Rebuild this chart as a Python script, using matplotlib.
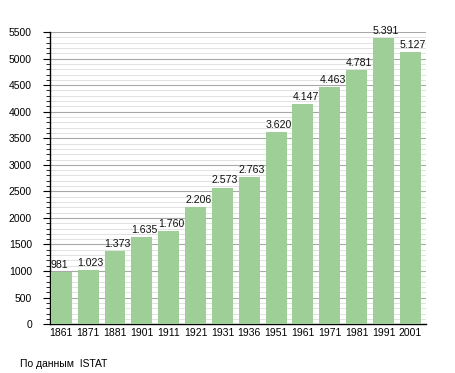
import numpy as np
import matplotlib.pyplot as plt
from matplotlib.ticker import MultipleLocator

years = ["1861", "1871", "1881", "1901", "1911", "1921", "1931",
         "1936", "1951", "1961", "1971", "1981", "1991", "2001"]
population = [981, 1023, 1373, 1635, 1760, 2206, 2573,
              2763, 3620, 4147, 4463, 4781, 5391, 5127]

plt.rcParams['font.family'] = ['Liberation Sans', 'DejaVu Sans']

fig = plt.figure(figsize=(4.55, 3.73), dpi=100)
ax = fig.add_axes([0.110, 0.131, 0.826, 0.783])

x = np.arange(len(years))
width = 0.78
ax.bar(x, population, width=width, color="#9dcf96", zorder=3)

# value labels sit at the left edge of each bar, thousands with a dot
for xi, val in zip(x, population):
    label = f"{val:,}".replace(",", ".")
    ax.text(xi - width / 2, val + 40, label, ha="left", va="bottom",
            fontsize=7.6, color="#111111", zorder=4)

ax.set_xlim(-0.42, len(years) - 0.42)
ax.set_ylim(0, 5500)
ax.set_xticks(x)
ax.set_xticklabels(years, fontsize=7.5)
ax.tick_params(axis="x", length=0, pad=3)

ax.yaxis.set_major_locator(MultipleLocator(500))
ax.yaxis.set_minor_locator(MultipleLocator(100))
ax.tick_params(axis="y", which="major", length=5, width=0.8, labelsize=7.5, pad=8)
ax.tick_params(axis="y", which="minor", length=3, width=0.6)

ax.grid(axis="y", which="major", color="#a8a8a8", linewidth=0.8, zorder=0)
ax.grid(axis="y", which="minor", color="#e2e2e2", linewidth=0.7, zorder=0)

for side in ["top", "right"]:
    ax.spines[side].set_visible(False)
ax.spines["left"].set_linewidth(1.0)
ax.spines["bottom"].set_linewidth(1.0)

fig.text(0.044, 0.012, "По данным  ISTAT", fontsize=7.5, ha="left", va="bottom")

fig.savefig("out.png", dpi=100)
